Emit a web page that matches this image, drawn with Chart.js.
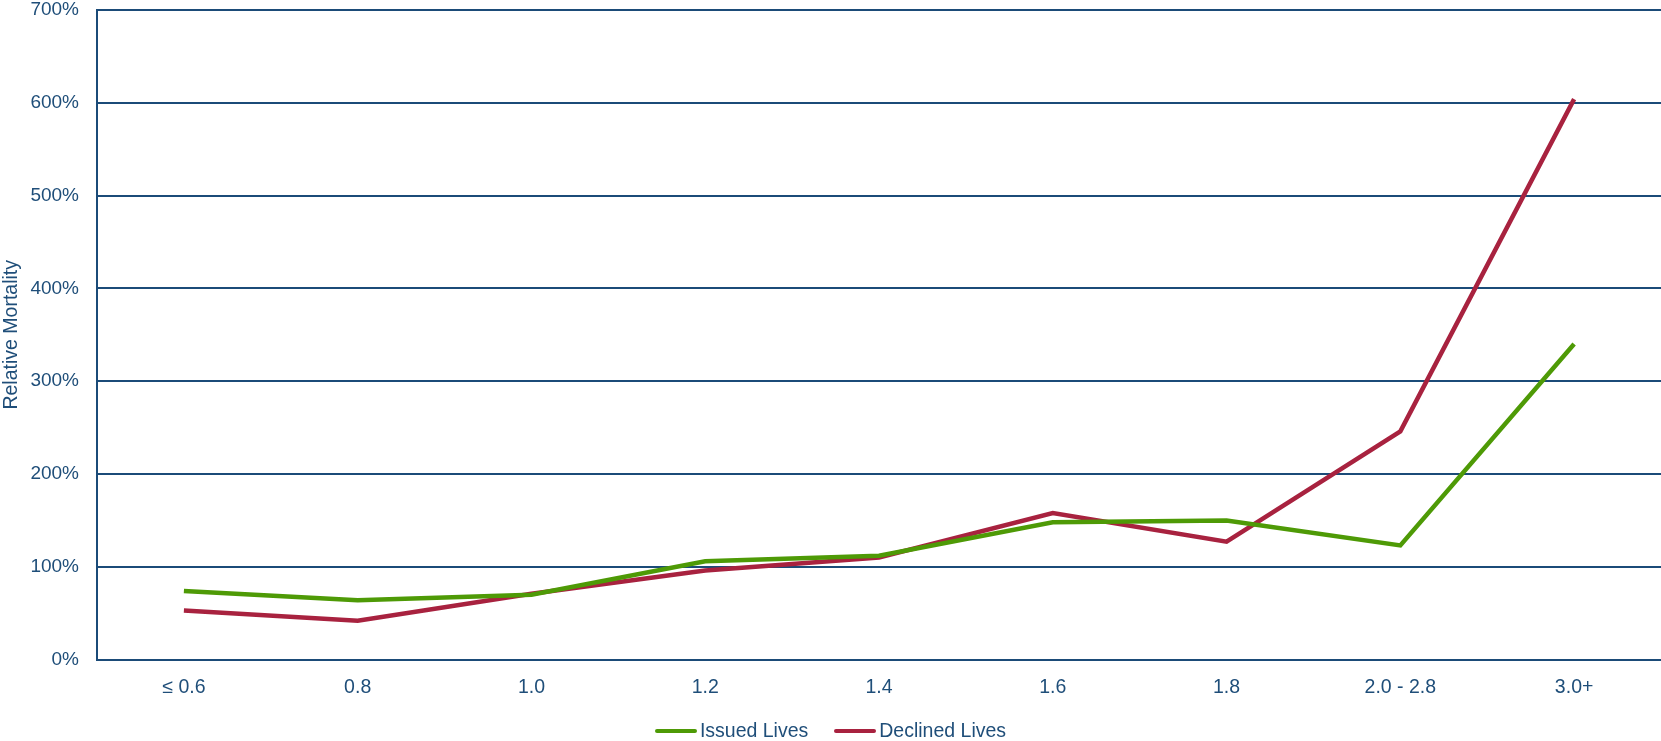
<!DOCTYPE html>
<html>
<head>
<meta charset="utf-8">
<script src="https://cdn.jsdelivr.net/npm/chart.js@4"></script>
<style>
  html, body { margin: 0; padding: 0; background: #fff; }
  #wrap { position: relative; width: 1661px; height: 741px; }
  #legend { position: absolute; left: 0; right: 0; top: 719px; height: 22px;
            text-align: center; font-family: 'Liberation Sans', Arial, sans-serif;
            font-size: 19.5px; line-height: 22px; color: #1f4e79; }
  #legend .item { display: inline-block; margin: 0 13px; white-space: nowrap; }
  #legend .swatch { display: inline-block; width: 42px; height: 4px; border-radius: 2px;
                    vertical-align: middle; margin-right: 3px; position: relative; top: -1px; }
</style>
</head>
<body>
<div id="wrap"><canvas id="chart"></canvas><div id="legend"></div></div>
<script>
// categories and values (percent)
var categories = ['\u2264 0.6', '0.8', '1.0', '1.2', '1.4', '1.6', '1.8', '2.0 - 2.8', '3.0+'];
var issuedLives = [74, 64, 70, 106, 112, 148, 150, 123, 340];
var declinedLives = [53, 42, 71, 96, 110, 158, 127, 246, 604];

var textColor = '#1f4e79';
var gridColor = '#1b4b78';

var chart = new Chart(document.getElementById('chart'), {
    type: 'line',
    data: {
        labels: categories,
        datasets: [{
            label: 'Issued Lives',
            data: issuedLives,
            borderColor: '#4e9a06',
            backgroundColor: '#4e9a06',
            borderWidth: 4.5,
            pointRadius: 0,
            tension: 0
        }, {
            label: 'Declined Lives',
            data: declinedLives,
            borderColor: '#a8223f',
            backgroundColor: '#a8223f',
            borderWidth: 4.5,
            pointRadius: 0,
            tension: 0
        }]
    },
    options: {
        responsive: true,
        maintainAspectRatio: false,
        animation: false,
        layout: { padding: { top: 0, right: 0, bottom: 26, left: 0 } },
        plugins: {
            legend: { display: false },
            tooltip: { enabled: false }
        },
        scales: {
            x: {
                offset: true,
                grid: { display: false, drawTicks: false },
                border: { display: false },
                ticks: {
                    color: textColor,
                    font: { family: 'Liberation Sans, Arial', size: 19.5 },
                    padding: 16,
                    maxRotation: 0
                }
            },
            y: {
                min: 0,
                max: 700,
                afterFit: function(scale) {
                    scale.width = 97;
                    scale.paddingTop = 10;
                },
                grid: { color: gridColor, lineWidth: 2, drawTicks: false },
                border: { display: true, color: gridColor, width: 2 },
                ticks: {
                    stepSize: 100,
                    color: textColor,
                    font: { family: 'Liberation Sans, Arial', size: 19 },
                    padding: 18,
                    callback: function(v) { return v + '%'; }
                },
                title: {
                    display: true,
                    text: 'Relative Mortality',
                    color: textColor,
                    font: { family: 'Liberation Sans, Arial', size: 19.5 },
                    padding: 0
                }
            }
        }
    }
});

// html legend below the chart
var legend = document.getElementById('legend');
chart.data.datasets.forEach(function(ds) {
    var item = document.createElement('span');
    item.className = 'item';
    var sw = document.createElement('span');
    sw.className = 'swatch';
    sw.style.backgroundColor = ds.borderColor;
    item.appendChild(sw);
    item.appendChild(document.createTextNode(ds.label));
    legend.appendChild(item);
});
</script>
</body>
</html>
